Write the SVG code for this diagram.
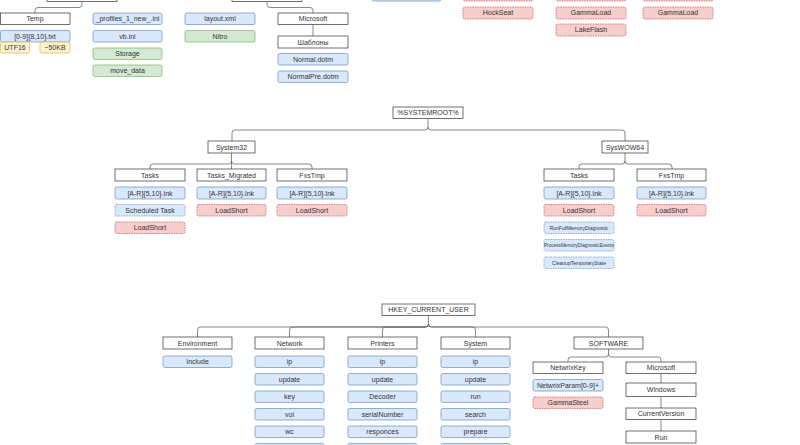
<svg xmlns="http://www.w3.org/2000/svg" width="800" height="445" viewBox="0 0 800 445">
<style>
rect{stroke-width:.7}
.w{fill:#fff;stroke:#333}
.b{fill:#dae8fc;stroke:#6c8ebf}
.bd{fill:#dae8fc;stroke:#6c8ebf;stroke-dasharray:1.5 1}
.g{fill:#d5e8d4;stroke:#82b366}
.y{fill:#fff2cc;stroke:#d6b656}
.r{fill:#f8cecc;stroke:#b85450;stroke-dasharray:1.5 1}
text{font-family:"Liberation Sans",Arial,sans-serif;font-size:7px;fill:#333;text-anchor:middle}
.t{font-size:5px}
#connectors path{fill:none;stroke:#555;stroke-width:.7}
</style>
<rect width="800" height="445" fill="#fff"/>
<g id="connectors">
<path d="M82,1.5V4.5Q82,7.5 79,7.5H38Q35,7.5 35,10.5V13"/>
<path d="M267,1.5V4.5Q267,7.5 270,7.5H310Q313,7.5 313,10.5V13"/>
<path d="M313,24.5V36"/>
<path d="M428,118.5V127Q428,130 425,130H235Q232,130 232,133V141"/>
<path d="M428,127Q428,130 431,130H622Q625,130 625,133V141"/>
<path d="M231.5,153V161Q231.5,164 228.5,164H153Q150,164 150,167V169"/>
<path d="M231.5,161V169"/>
<path d="M231.5,161Q231.5,164 234.5,164H309Q312,164 312,167V169"/>
<path d="M625,153V161Q625,164 622,164H582Q579,164 579,167V169"/>
<path d="M625,161Q625,164 628,164H669Q672,164 672,167V169"/>
<path d="M428.5,315.5V324Q428.5,327 425.5,327H200.5Q197.5,327 197.5,330V337"/>
<path d="M428.5,324Q428.5,327 425.5,327H292.5Q289.5,327 289.5,330V337"/>
<path d="M428.5,324Q428.5,327 425.5,327H385.5Q382.5,327 382.5,330V337"/>
<path d="M428.5,324Q428.5,327 431.5,327H472.5Q475.5,327 475.5,330V337"/>
<path d="M428.5,324Q428.5,327 431.5,327H605.5Q608.5,327 608.5,330V337"/>
<path d="M608.5,349V354Q608.5,357 605.5,357H571Q568,357 568,360V362"/>
<path d="M608.5,354Q608.5,357 611.5,357H658Q661,357 661,360V362"/>
<path d="M661,373.5V383M661,396.5V408M661,419.5V431"/>
</g>
<g id="top-parent-1"><rect class="w" x="47" y="-10" width="70" height="11.5"/></g>
<g id="top-parent-2"><rect class="w" x="232" y="-10" width="70" height="11.5"/></g>
<g id="top-parent-3"><rect class="b" x="372" y="-10" width="69" height="11" rx="1.7"/></g>
<g id="top-red-1"><rect class="r" x="463" y="-10" width="70" height="11" rx="1.7"/></g>
<g id="top-red-2"><rect class="r" x="556" y="-10" width="70" height="11" rx="1.7"/></g>
<g id="top-red-3"><rect class="r" x="643" y="-10" width="70" height="11" rx="1.7"/></g>

<g id="temp"><rect class="w" x="0.5" y="13" width="69.5" height="11.5"/><text x="35" y="21.2">Temp</text></g>
<g id="temp-txt"><rect class="b" x="0.5" y="30.5" width="69.5" height="11.5" rx="1.7"/><text x="35" y="38.7">[0-9]{8,10}.txt</text></g>
<g id="utf16"><rect class="y" x="0.5" y="42" width="29" height="11" rx="1.7"/><text x="15" y="50">UTF16</text></g>
<g id="size50"><rect class="y" x="40" y="42" width="30" height="11" rx="1.7"/><text x="55" y="50">~50KB</text></g>

<g id="profiles"><rect class="b" x="93" y="13" width="69" height="11.5" rx="1.7"/><text x="127.5" y="21.2">_profiles_1_new_.ini</text></g>
<g id="vbini"><rect class="b" x="93" y="30.5" width="69" height="11.5" rx="1.7"/><text x="127.5" y="38.7">vb.ini</text></g>
<g id="storage"><rect class="g" x="93" y="48" width="69" height="11.5" rx="1.7"/><text x="127.5" y="56.2">Storage</text></g>
<g id="movedata"><rect class="g" x="93" y="65" width="69" height="11.5" rx="1.7"/><text x="127.5" y="73.2">move_data</text></g>

<g id="layout"><rect class="b" x="185" y="13" width="70" height="11.5" rx="1.7"/><text x="220" y="21.2">layout.xml</text></g>
<g id="nitro"><rect class="g" x="185" y="30.5" width="70" height="11.5" rx="1.7"/><text x="220" y="38.7">Nitro</text></g>

<g id="microsoft-top"><rect class="w" x="278" y="13" width="70" height="11.5"/><text x="313" y="21.2">Microsoft</text></g>
<g id="shablony"><rect class="w" x="278" y="36" width="70" height="12"/><text x="313" y="44.5">Шаблоны</text></g>
<g id="normal"><rect class="b" x="278" y="53.5" width="70" height="11.5" rx="1.7"/><text x="313" y="61.7">Normal.dotm</text></g>
<g id="normalpre"><rect class="b" x="278" y="71" width="70" height="11.5" rx="1.7"/><text x="313" y="79.2">NormalPre.dotm</text></g>

<g id="hockseat"><rect class="r" x="463" y="7" width="70" height="12" rx="1.7"/><text x="498" y="15.4">HockSeat</text></g>
<g id="gammaload-1"><rect class="r" x="556" y="7" width="70" height="12" rx="1.7"/><text x="591" y="15.4">GammaLoad</text></g>
<g id="lakeflash"><rect class="r" x="556" y="24" width="70" height="12" rx="1.7"/><text x="591" y="32.4">LakeFlash</text></g>
<g id="gammaload-2"><rect class="r" x="643" y="7" width="70" height="12" rx="1.7"/><text x="678" y="15.4">GammaLoad</text></g>

<g id="systemroot"><rect class="w" x="393" y="107" width="70" height="11.5"/><text x="428" y="115.2">%SYSTEMROOT%</text></g>
<g id="system32"><rect class="w" x="208" y="141" width="47" height="12"/><text x="231.5" y="149.5">System32</text></g>
<g id="syswow64"><rect class="w" x="602" y="141" width="46" height="12"/><text x="625" y="149.5">SysWOW64</text></g>

<g id="s32-tasks"><rect class="w" x="115" y="169" width="70" height="12"/><text x="150" y="177.5">Tasks</text></g>
<g id="s32-tasks-migrated"><rect class="w" x="197" y="169" width="69" height="12"/><text x="231.5" y="177.5">Tasks_Migrated</text></g>
<g id="s32-fxstmp"><rect class="w" x="277" y="169" width="70" height="12"/><text x="312" y="177.5">FxsTmp</text></g>
<g id="s32-tasks-lnk"><rect class="b" x="115" y="187" width="70" height="12" rx="1.7"/><text x="150" y="195.5">[A-R]{5,10}.lnk</text></g>
<g id="s32-tm-lnk"><rect class="b" x="197" y="187" width="69" height="12" rx="1.7"/><text x="231.5" y="195.5">[A-R]{5,10}.lnk</text></g>
<g id="s32-fx-lnk"><rect class="b" x="277" y="187" width="70" height="12" rx="1.7"/><text x="312" y="195.5">[A-R]{5,10}.lnk</text></g>
<g id="scheduled-task"><rect class="bd" x="115" y="204.5" width="70" height="11.5" rx="1.7"/><text x="150" y="212.7">Scheduled Task</text></g>
<g id="s32-tasks-ls"><rect class="r" x="115" y="222" width="70" height="11.5" rx="1.7"/><text x="150" y="230.2">LoadShort</text></g>
<g id="s32-tm-ls"><rect class="r" x="197" y="204.5" width="69" height="11.5" rx="1.7"/><text x="231.5" y="212.7">LoadShort</text></g>
<g id="s32-fx-ls"><rect class="r" x="277" y="204.5" width="70" height="11.5" rx="1.7"/><text x="312" y="212.7">LoadShort</text></g>

<g id="wow-tasks"><rect class="w" x="544" y="169" width="70" height="12"/><text x="579" y="177.5">Tasks</text></g>
<g id="wow-fxstmp"><rect class="w" x="637" y="169" width="69" height="12"/><text x="671.5" y="177.5">FxsTmp</text></g>
<g id="wow-tasks-lnk"><rect class="b" x="544" y="187" width="70" height="12" rx="1.7"/><text x="579" y="195.5">[A-R]{5,10}.lnk</text></g>
<g id="wow-fx-lnk"><rect class="b" x="637" y="187" width="69" height="12" rx="1.7"/><text x="671.5" y="195.5">[A-R]{5,10}.lnk</text></g>
<g id="wow-tasks-ls"><rect class="r" x="544" y="204.5" width="70" height="11.5" rx="1.7"/><text x="579" y="212.7">LoadShort</text></g>
<g id="wow-fx-ls"><rect class="r" x="637" y="204.5" width="69" height="11.5" rx="1.7"/><text x="671.5" y="212.7">LoadShort</text></g>
<g id="runfull"><rect class="bd" x="544" y="222" width="70" height="11.5" rx="1.7"/><text class="t" x="579" y="229.5">RunFullMemoryDiagnostic</text></g>
<g id="processmem"><rect class="bd" x="544" y="239.5" width="70" height="11.5" rx="1.7"/><text class="t" x="579" y="247" textLength="70" lengthAdjust="spacingAndGlyphs">ProcessMemoryDiagnosticEvents</text></g>
<g id="cleanup"><rect class="bd" x="544" y="257" width="70" height="11.5" rx="1.7"/><text class="t" x="579" y="264.5">CleanupTemporaryState</text></g>

<g id="hkcu"><rect class="w" x="382" y="304" width="93" height="11.5"/><text x="428.5" y="312.2">HKEY_CURRENT_USER</text></g>
<g id="environment"><rect class="w" x="163" y="337" width="69" height="12"/><text x="197.5" y="345.5">Environment</text></g>
<g id="network"><rect class="w" x="255" y="337" width="69" height="12"/><text x="289.5" y="345.5">Network</text></g>
<g id="printers"><rect class="w" x="348" y="337" width="69" height="12"/><text x="382.5" y="345.5">Printers</text></g>
<g id="system"><rect class="w" x="441" y="337" width="69" height="12"/><text x="475.5" y="345.5">System</text></g>
<g id="software"><rect class="w" x="574" y="337" width="69" height="12"/><text x="608.5" y="345.5">SOFTWARE</text></g>

<g id="env-include"><rect class="b" x="163" y="356" width="69" height="11.5" rx="1.7"/><text x="197.5" y="364.2">Include</text></g>

<g id="net-ip"><rect class="b" x="255" y="356" width="69" height="11.5" rx="1.7"/><text x="289.5" y="364.2">ip</text></g>
<g id="net-update"><rect class="b" x="255" y="373.5" width="69" height="11.5" rx="1.7"/><text x="289.5" y="381.7">update</text></g>
<g id="net-key"><rect class="b" x="255" y="391" width="69" height="11.5" rx="1.7"/><text x="289.5" y="399.2">key</text></g>
<g id="net-vol"><rect class="b" x="255" y="408.5" width="69" height="11.5" rx="1.7"/><text x="289.5" y="416.7">vol</text></g>
<g id="net-wc"><rect class="b" x="255" y="426" width="69" height="11.5" rx="1.7"/><text x="289.5" y="434.2">wc</text></g>
<g id="net-more"><rect class="b" x="255" y="443.5" width="69" height="11.5" rx="1.7"/></g>

<g id="pr-ip"><rect class="b" x="348" y="356" width="69" height="11.5" rx="1.7"/><text x="382.5" y="364.2">ip</text></g>
<g id="pr-update"><rect class="b" x="348" y="373.5" width="69" height="11.5" rx="1.7"/><text x="382.5" y="381.7">update</text></g>
<g id="pr-decoder"><rect class="b" x="348" y="391" width="69" height="11.5" rx="1.7"/><text x="382.5" y="399.2">Decoder</text></g>
<g id="pr-serial"><rect class="b" x="348" y="408.5" width="69" height="11.5" rx="1.7"/><text x="382.5" y="416.7">serialNumber</text></g>
<g id="pr-resp"><rect class="b" x="348" y="426" width="69" height="11.5" rx="1.7"/><text x="382.5" y="434.2">responces</text></g>
<g id="pr-more"><rect class="b" x="348" y="443.5" width="69" height="11.5" rx="1.7"/></g>

<g id="sys-ip"><rect class="b" x="441" y="356" width="69" height="11.5" rx="1.7"/><text x="475.5" y="364.2">ip</text></g>
<g id="sys-update"><rect class="b" x="441" y="373.5" width="69" height="11.5" rx="1.7"/><text x="475.5" y="381.7">update</text></g>
<g id="sys-run"><rect class="b" x="441" y="391" width="69" height="11.5" rx="1.7"/><text x="475.5" y="399.2">run</text></g>
<g id="sys-search"><rect class="b" x="441" y="408.5" width="69" height="11.5" rx="1.7"/><text x="475.5" y="416.7">search</text></g>
<g id="sys-prepare"><rect class="b" x="441" y="426" width="69" height="11.5" rx="1.7"/><text x="475.5" y="434.2">prepare</text></g>
<g id="sys-more"><rect class="b" x="441" y="443.5" width="69" height="11.5" rx="1.7"/></g>

<g id="netwrixkey"><rect class="w" x="533" y="362" width="70" height="11.5"/><text x="568" y="370.2">NetwrixKey</text></g>
<g id="netwrixparam"><rect class="b" x="533" y="379.5" width="70" height="11.5" rx="1.7"/><text x="568" y="387.7">NetwrixParam[0-9]+</text></g>
<g id="gammasteel"><rect class="r" x="533" y="397" width="70" height="11.5" rx="1.7"/><text x="568" y="405.2">GammaSteel</text></g>
<g id="microsoft-sw"><rect class="w" x="626" y="362" width="70" height="11.5"/><text x="661" y="370.2">Microsoft</text></g>
<g id="windows"><rect class="w" x="626" y="383" width="70" height="13.5"/><text x="661" y="392.2">Windows</text></g>
<g id="currentversion"><rect class="w" x="626" y="408" width="70" height="11.5"/><text x="661" y="416.2">CurrentVersion</text></g>
<g id="run"><rect class="w" x="626" y="431" width="70" height="12"/><text x="661" y="439.5">Run</text></g>
</svg>
